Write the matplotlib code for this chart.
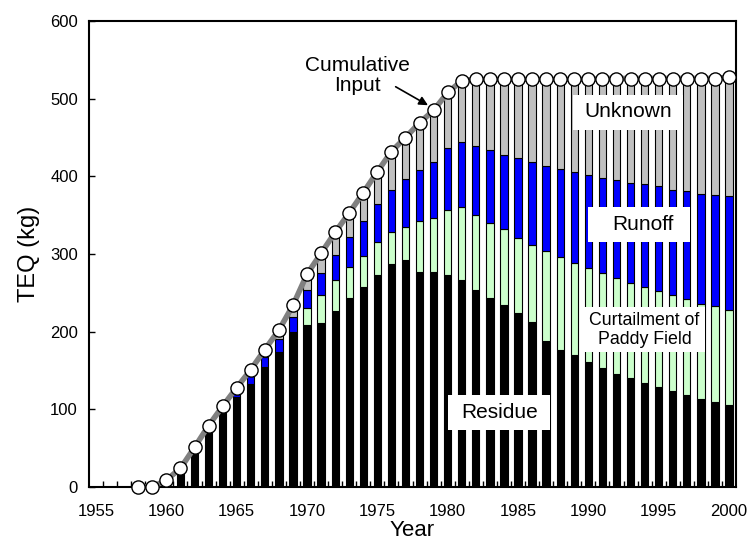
import numpy as np
import matplotlib
matplotlib.use('Agg')
from matplotlib import pyplot as plt
from matplotlib.patches import Rectangle

plt.rcParams['font.family'] = ['Liberation Sans', 'DejaVu Sans']

years = np.arange(1958, 2001)

cumulative = [0, 0, 9, 24, 51, 79, 104, 128, 151, 177, 202, 234, 274, 301, 328,
              353, 379, 406, 432, 450, 469, 485, 508, 523, 525, 525, 525, 525,
              525, 525, 525, 525, 525, 526, 526, 526, 526, 526, 526, 526, 526,
              526, 528]

residue = [0, 0, 8, 20, 48, 71, 97, 116, 133, 154, 174, 200, 209, 211, 226,
           243, 258, 273, 287, 292, 277, 277, 273, 266, 254, 244, 234, 224,
           212, 188, 176, 170, 161, 153, 146, 141, 134, 129, 124, 118, 113,
           109, 105]

curtailment = [0, 0, 0, 0, 0, 0, 0, 0, 0, 0, 0, 0, 21, 36, 40, 40, 39, 42, 41,
               43, 65, 70, 84, 94, 96, 96, 98, 97, 100, 116, 120, 119, 121, 123,
               123, 122, 123, 123, 123, 124, 123, 124, 123]

runoff = [0, 0, 0, 0, 0, 0, 0, 4, 10, 13, 16, 19, 24, 29, 33, 39, 45, 49, 55,
          61, 66, 71, 79, 84, 89, 94, 96, 102, 106, 109, 114, 116, 120, 122,
          126, 128, 133, 135, 136, 139, 141, 143, 147]

residue = np.array(residue)
curtailment = np.array(curtailment)
runoff = np.array(runoff)
cumulative = np.array(cumulative)
unknown = np.clip(cumulative - residue - curtailment - runoff, 0, None)

fig = plt.figure(figsize=(7.48, 5.45), dpi=100)
ax = fig.add_axes([0.119, 0.1064, 0.865, 0.855])

w = 0.52
ax.bar(years, residue, w, color='black', edgecolor='black', linewidth=0.8, zorder=2)
b1 = residue
ax.bar(years, curtailment, w, bottom=b1, color='#ccffcc', edgecolor='black', linewidth=0.8, zorder=2)
b2 = b1 + curtailment
ax.bar(years, runoff, w, bottom=b2, color='#0000ff', edgecolor='black', linewidth=0.8, zorder=2)
b3 = b2 + runoff
ax.bar(years, unknown, w, bottom=b3, color='#c0c0c0', edgecolor='black', linewidth=0.8, zorder=2)

ax.plot(years, cumulative, color='#808080', linewidth=4, zorder=3)
ax.plot(years, cumulative, 'o', markersize=9.5, markerfacecolor='white',
        markeredgecolor='black', markeredgewidth=1, zorder=4, clip_on=False)

# white label boxes (x0, y0, width, height in data units)
boxes = [(1988.9, 459.6, 7.8, 45.1),
         (1990.0, 315.4, 7.2, 45.1),
         (1989.6, 173.8, 8.7, 57.9),
         (1980.0, 73.7, 7.3, 45.1)]
for x0, y0, bw, bh in boxes:
    ax.add_patch(Rectangle((x0, y0), bw, bh, facecolor='white', edgecolor='none', zorder=5))

ax.text(1992.8, 483, 'Unknown', fontsize=15, ha='center', va='center', zorder=6)
ax.text(1993.9, 338, 'Runoff', fontsize=15, ha='center', va='center', zorder=6)
ax.text(1994.0, 202, 'Curtailment of\nPaddy Field', fontsize=12.8, ha='center',
        va='center', linespacing=1.15, zorder=6)
ax.text(1983.7, 96, 'Residue', fontsize=15, ha='center', va='center', zorder=6)

ax.text(1973.6, 530, 'Cumulative\nInput', fontsize=15, ha='center', va='center',
        linespacing=1.05, zorder=6)
ax.annotate('', xy=(1978.6, 491.6), xytext=(1976.3, 515.4), zorder=6,
            arrowprops=dict(arrowstyle='-|>', color='black', linewidth=1.2,
                            shrinkA=0, shrinkB=0, mutation_scale=13))

ax.set_xlim(1954.5, 2000.5)
ax.set_ylim(0, 600)
ax.set_xticks(np.arange(1955, 2001, 5))
ax.set_xticks(np.arange(1955.5, 2000.5, 1), minor=True)
ax.set_yticks(np.arange(0, 601, 100))
ax.tick_params(axis='x', which='major', length=0, labelsize=12, pad=12)
ax.tick_params(axis='x', which='minor', direction='in', length=4, width=1)
ax.tick_params(axis='y', direction='in', length=4, width=1, labelsize=12, pad=8)
for s in ax.spines.values():
    s.set_linewidth(1.5)

ax.set_xlabel('Year', fontsize=16, labelpad=1)
ax.set_ylabel('TEQ (kg)', fontsize=17, labelpad=7)

plt.savefig('out.png', dpi=100)
